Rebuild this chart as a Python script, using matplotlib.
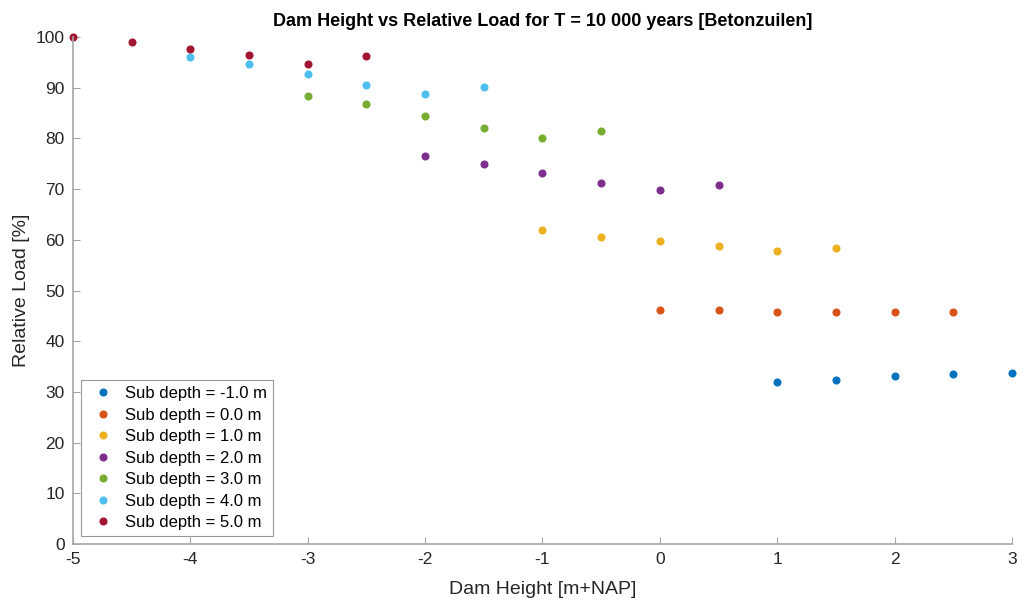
import matplotlib.pyplot as plt

plt.rcParams['font.family'] = ['Liberation Sans', 'DejaVu Sans']
plt.rcParams['axes.unicode_minus'] = False

# --- data ---
labels = ['Sub depth = -1.0 m', 'Sub depth = 0.0 m', 'Sub depth = 1.0 m',
          'Sub depth = 2.0 m', 'Sub depth = 3.0 m', 'Sub depth = 4.0 m',
          'Sub depth = 5.0 m']
colors = ['#0072BD', '#D95319', '#EDB120', '#7E2F8E', '#77AC30', '#4DBEEE', '#A2142F']

x_m1 = [1.0, 1.5, 2.0, 2.5, 3.0]
y_m1 = [31.9, 32.4, 33.1, 33.5, 33.8]
x_0 = [0.0, 0.5, 1.0, 1.5, 2.0, 2.5]
y_0 = [46.2, 46.1, 45.8, 45.7, 45.8, 45.7]
x_1 = [-1.0, -0.5, 0.0, 0.5, 1.0, 1.5]
y_1 = [61.9, 60.6, 59.8, 58.8, 57.7, 58.3]
x_2 = [-2.0, -1.5, -1.0, -0.5, 0.0, 0.5]
y_2 = [76.5, 75.0, 73.1, 71.3, 69.8, 70.8]
x_3 = [-3.0, -2.5, -2.0, -1.5, -1.0, -0.5]
y_3 = [88.3, 86.7, 84.4, 82.0, 80.1, 81.5]
x_4 = [-4.0, -3.5, -3.0, -2.5, -2.0, -1.5]
y_4 = [96.1, 94.6, 92.8, 90.5, 88.8, 90.2]
x_5 = [-5.0, -4.5, -4.0, -3.5, -3.0, -2.5]
y_5 = [100.0, 99.0, 97.7, 96.4, 94.7, 96.2]

xs = [x_m1, x_0, x_1, x_2, x_3, x_4, x_5]
ys = [y_m1, y_0, y_1, y_2, y_3, y_4, y_5]

fig = plt.figure(figsize=(10.23, 6.01), dpi=100)
ax = fig.add_axes([0.0714, 0.0948, 0.9178, 0.8436])

for x, y, c, lab in zip(xs, ys, colors, labels):
    ax.plot(x, y, 'o', color=c, markersize=4.8, label=lab, clip_on=False)

ax.set_xlim(-5, 3)
ax.set_ylim(0, 100)
ax.set_xticks(range(-5, 4))
ax.set_yticks(range(0, 101, 10))

for s in ['top', 'right']:
    ax.spines[s].set_visible(False)
for s in ['left', 'bottom']:
    ax.spines[s].set_color('#a6a6a6')
    ax.spines[s].set_linewidth(1.2)
ax.tick_params(direction='in', length=5, color='#a6a6a6', labelsize=12.5,
               labelcolor='#262626', pad=6)

ax.set_xlabel('Dam Height [m+NAP]', fontsize=14, color='#262626', labelpad=10)
ax.set_ylabel('Relative Load [%]', fontsize=14, color='#262626', labelpad=4)
ax.set_title('Dam Height vs Relative Load for T = 10 000 years [Betonzuilen]',
             fontsize=13, fontweight='bold', pad=8)

leg = ax.legend(loc='lower left', bbox_to_anchor=(0.008, 0.016), fontsize=12,
                frameon=True, fancybox=False, handletextpad=0.3,
                borderpad=0.35, labelspacing=0.39, handlelength=2.0,
                borderaxespad=0)
leg.get_frame().set_edgecolor('#808080')
leg.get_frame().set_linewidth(0.8)

plt.savefig('out.png', dpi=100)
